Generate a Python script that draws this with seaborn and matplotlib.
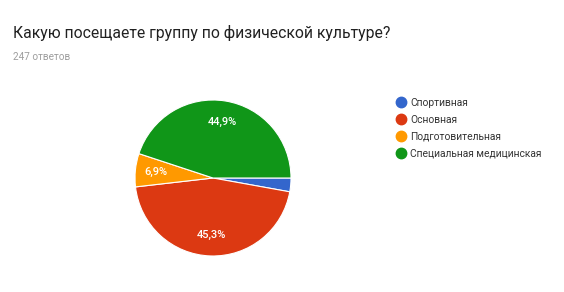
import matplotlib
matplotlib.use("Agg")
import matplotlib.pyplot as plt
from matplotlib.lines import Line2D
import numpy as np
import seaborn as sns

categories = ["Спортивная", "Основная", "Подготовительная", "Специальная медицинская"]
counts = [7, 112, 17, 111]
pct_labels = ["", "45,3%", "6,9%", "44,9%"]
title = "Какую посещаете группу по физической культуре?"
subtitle = "247 ответов"

sns.set_theme(style="white")
plt.rcParams['font.family'] = ['Roboto', 'DejaVu Sans']
colors = sns.color_palette(["#3366CC", "#DC3912", "#FF9900", "#109618"])

W, H = 564, 292
fig = plt.figure(figsize=(W / 100, H / 100), dpi=100)
ax = fig.add_axes([135 / W, (H - 256) / H, 156 / W, 156 / H])

wedges, _ = ax.pie(counts, colors=colors, startangle=0, counterclock=False,
                   wedgeprops=dict(edgecolor="white", linewidth=0.8))
for w, lab in zip(wedges, pct_labels):
    th = np.deg2rad((w.theta1 + w.theta2) / 2)
    if lab:
        ax.text(0.73 * np.cos(th), 0.73 * np.sin(th), lab, ha="center", va="center",
                color="white", fontsize=8, fontweight="medium")
ax.set_xlim(-1, 1)
ax.set_ylim(-1, 1)
ax.set_aspect("equal")
ax.axis("off")

fig.text(13 / W, 1 - 33 / H, title, fontsize=11.35, color="#212121", va="center", ha="left")
fig.text(13 / W, 1 - 57 / H, subtitle, fontsize=7.2, color="#9e9e9e", va="center", ha="left")

handles = [Line2D([0], [0], marker="o", linestyle="", markersize=7.5,
                  markerfacecolor=c, markeredgecolor=c) for c in colors]
fig.legend(handles, categories, loc="upper left", bbox_to_anchor=(395 / W, 1 - 98 / H),
           frameon=False, fontsize=7.35, labelspacing=0.68, handletextpad=0.3,
           handlelength=1.2, labelcolor="#333333", borderaxespad=0, borderpad=0)

fig.savefig("out.png", dpi=100, facecolor="white")
